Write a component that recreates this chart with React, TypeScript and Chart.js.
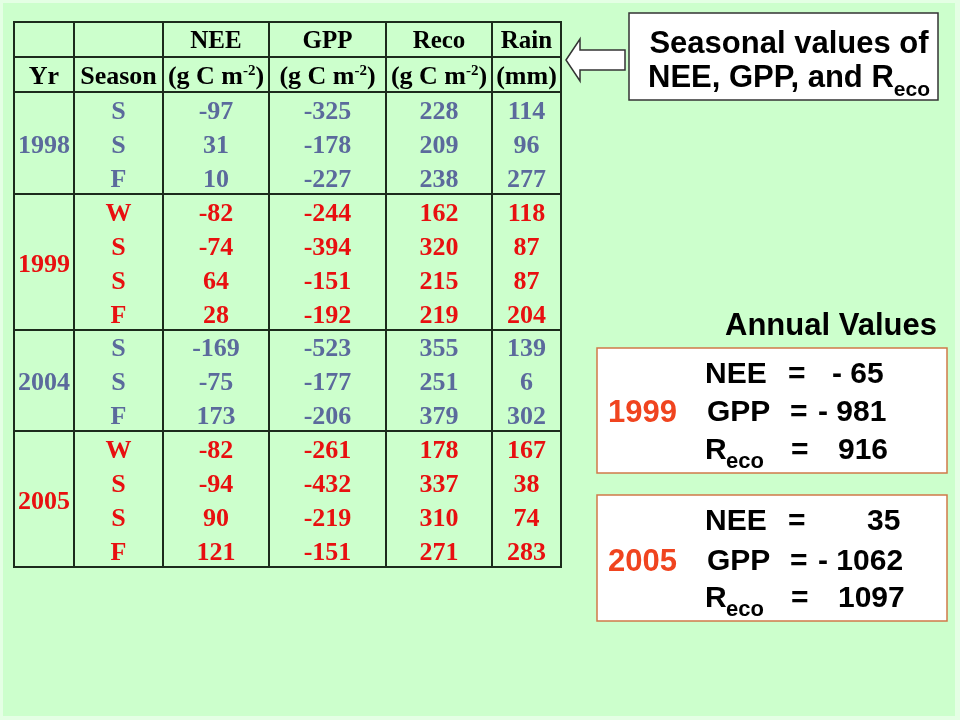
import React, { useEffect, useRef } from "react";
import { Chart, registerables } from "chart.js";

Chart.register(...registerables);

// ---------------- data ----------------
const YEARS = ["1998", "1999", "2004", "2005"];
const YEAR_ROWS = [3, 4, 3, 4];
const HIGHLIGHTED_YEARS = ["1999", "2005"];
const SEASONS = ["S", "S", "F", "W", "S", "S", "F", "S", "S", "F", "W", "S", "S", "F"];
const NEE = [-97, 31, 10, -82, -74, 64, 28, -169, -75, 173, -82, -94, 90, 121];
const GPP = [-325, -178, -227, -244, -394, -151, -192, -523, -177, -206, -261, -432, -219, -151];
const RECO = [228, 209, 238, 162, 320, 215, 219, 355, 251, 379, 178, 337, 310, 271];
const RAIN = [114, 96, 277, 118, 87, 87, 204, 139, 6, 302, 167, 38, 74, 283];

const COLUMN_NAMES = ["", "", "NEE", "GPP", "Reco", "Rain"];
const COLUMN_UNITS: string[][] = [
  ["Yr"],
  ["Season"],
  ["(g C m", "-2", ")"],
  ["(g C m", "-2", ")"],
  ["(g C m", "-2", ")"],
  ["(mm)"],
];

const TITLE_LINE_1 = "Seasonal values of";
const TITLE_LINE_2 = "NEE, GPP, and R";
const TITLE_SUB = "eco";
const ANNUAL_TITLE = "Annual Values";
const ANNUAL_YEARS = ["1999", "2005"];
const ANNUAL_NEE = [-65, 35];
const ANNUAL_GPP = [-981, -1062];
const ANNUAL_RECO = [916, 1097];

// ---------------- layout / style ----------------
const COL_WIDTHS = [60, 89, 106, 117, 106, 69];
const TABLE_W = COL_WIDTHS.reduce((a, b) => a + b, 0);
const HEADER_H = 35;
const BG = "#ccffcc";
const BG_EDGE = "#e4ffe4";
const GRID = "#1c2b1c";
const BLUE = "#5b6a9c";
const RED = "#e81010";
const ORANGE = "#f0441f";
const BOX_BORDER = "#cf7a48";
const SERIF = "'Liberation Serif', 'Times New Roman', serif";
const SANS = "'Liberation Sans', Arial, sans-serif";

function colCenter(c: number) {
  let s = 0;
  for (let i = 0; i < c; i++) s += COL_WIDTHS[i];
  return s + COL_WIDTHS[c] / 2;
}
function colEdge(c: number) {
  let s = 0;
  for (let i = 0; i < c; i++) s += COL_WIDTHS[i];
  return s;
}

const ROW_YEAR: number[] = [];
YEAR_ROWS.forEach((n, g) => {
  for (let k = 0; k < n; k++) ROW_YEAR.push(g);
});

function fmtSigned(v: number) {
  return v < 0 ? "- " + Math.abs(v) : String(v);
}

function txt(
  ctx: CanvasRenderingContext2D,
  s: string,
  x: number,
  y: number,
  font: string,
  color: string,
  align: CanvasTextAlign = "left"
) {
  ctx.font = font;
  ctx.fillStyle = color;
  ctx.textAlign = align;
  ctx.textBaseline = "alphabetic";
  ctx.fillText(s, x, y);
}

const COLUMN_SERIES: (string | number)[][] = [SEASONS, NEE, GPP, RECO, RAIN];

const slidePlugin = {
  id: "slide",
  beforeDraw(chart: any) {
    const ctx: CanvasRenderingContext2D = chart.ctx;
    ctx.save();
    ctx.fillStyle = BG_EDGE;
    ctx.fillRect(0, 0, chart.width, chart.height);
    ctx.fillStyle = BG;
    ctx.fillRect(3, 3, 952, 713);
    ctx.restore();
  },
  afterDatasetsDraw(chart: any) {
    const ctx: CanvasRenderingContext2D = chart.ctx;
    const xs = chart.scales.x;
    const ys = chart.scales.y;
    ctx.save();

    const top = ys.top - 2 * HEADER_H;
    const bottom = ys.bottom;
    const left = xs.getPixelForValue(0);
    const right = xs.getPixelForValue(TABLE_W);

    // grid lines
    ctx.strokeStyle = GRID;
    ctx.lineWidth = 2;
    ctx.beginPath();
    for (let c = 0; c <= COL_WIDTHS.length; c++) {
      const px = Math.round(xs.getPixelForValue(colEdge(c)));
      ctx.moveTo(px, top);
      ctx.lineTo(px, bottom);
    }
    const hLines = [top, top + HEADER_H, ys.top];
    let cum = 0;
    YEAR_ROWS.forEach((n) => {
      cum += n;
      hLines.push(ys.getPixelForValue(cum));
    });
    hLines.forEach((py) => {
      ctx.moveTo(left - 1, Math.round(py));
      ctx.lineTo(right + 1, Math.round(py));
    });
    ctx.stroke();

    // header row 1
    const h1 = top + HEADER_H / 2 + 8.5;
    COLUMN_NAMES.forEach((name, c) => {
      if (name) txt(ctx, name, xs.getPixelForValue(colCenter(c)), h1, `bold 25px ${SERIF}`, "#000", "center");
    });
    // header row 2
    const h2 = top + HEADER_H * 1.5 + 9.5;
    COLUMN_UNITS.forEach((parts, c) => {
      const cx = xs.getPixelForValue(colCenter(c));
      if (parts.length === 1) {
        txt(ctx, parts[0], cx, h2, `bold 26px ${SERIF}`, "#000", "center");
      } else {
        const mainF = `bold 26px ${SERIF}`;
        const supF = `bold 15px ${SERIF}`;
        ctx.font = mainF;
        const w0 = ctx.measureText(parts[0]).width;
        const w2 = ctx.measureText(parts[2]).width;
        ctx.font = supF;
        const w1 = ctx.measureText(parts[1]).width;
        let x0 = cx - (w0 + w1 + w2) / 2;
        txt(ctx, parts[0], x0, h2, mainF, "#000");
        txt(ctx, parts[1], x0 + w0, h2 - 9, supF, "#000");
        txt(ctx, parts[2], x0 + w0 + w1, h2, mainF, "#000");
      }
    });

    // year labels
    let start = 0;
    YEARS.forEach((yr, g) => {
      const n = YEAR_ROWS[g];
      const cy = ys.getPixelForValue(start + n / 2);
      const color = HIGHLIGHTED_YEARS.includes(yr) ? RED : BLUE;
      txt(ctx, yr, xs.getPixelForValue(colCenter(0)), cy + 10, `bold 26px ${SERIF}`, color, "center");
      start += n;
    });

    // data cells from dataset elements
    chart.data.datasets.forEach((ds: any, d: number) => {
      const meta = chart.getDatasetMeta(d);
      const values = COLUMN_SERIES[d];
      meta.data.forEach((el: any, i: number) => {
        const color = HIGHLIGHTED_YEARS.includes(YEARS[ROW_YEAR[i]]) ? RED : BLUE;
        txt(ctx, String(values[i]), el.x, el.y + 10, `bold 26px ${SERIF}`, color, "center");
      });
    });

    // arrow
    ctx.beginPath();
    ctx.moveTo(566, 60);
    ctx.lineTo(580, 39);
    ctx.lineTo(580, 50);
    ctx.lineTo(625, 50);
    ctx.lineTo(625, 70);
    ctx.lineTo(580, 70);
    ctx.lineTo(580, 81);
    ctx.closePath();
    ctx.fillStyle = "#fff";
    ctx.fill();
    ctx.strokeStyle = "#333";
    ctx.lineWidth = 1.5;
    ctx.stroke();

    // title box
    ctx.fillStyle = "#fff";
    ctx.fillRect(629, 13, 309, 87);
    ctx.strokeStyle = "#333";
    ctx.lineWidth = 1.5;
    ctx.strokeRect(629, 13, 309, 87);
    txt(ctx, TITLE_LINE_1, 789, 53, `bold 31px ${SANS}`, "#000", "center");
    {
      const mf = `bold 31px ${SANS}`;
      const sf = `bold 21px ${SANS}`;
      ctx.font = mf;
      const w0 = ctx.measureText(TITLE_LINE_2).width;
      ctx.font = sf;
      const w1 = ctx.measureText(TITLE_SUB).width;
      const x0 = 789 - (w0 + w1) / 2;
      txt(ctx, TITLE_LINE_2, x0, 87, mf, "#000");
      txt(ctx, TITLE_SUB, x0 + w0, 96, sf, "#000");
    }

    // annual values
    txt(ctx, ANNUAL_TITLE, 831, 335, `bold 31px ${SANS}`, "#000", "center");
    const boxes = [
      { top: 348, bottom: 473, lines: [383, 421, 459] },
      { top: 495, bottom: 621, lines: [530, 570, 607] },
    ];
    const bf = `bold 30px ${SANS}`;
    const sbf = `bold 22px ${SANS}`;
    boxes.forEach((b, k) => {
      ctx.fillStyle = "#fff";
      ctx.fillRect(597, b.top, 350, b.bottom - b.top);
      ctx.strokeStyle = BOX_BORDER;
      ctx.lineWidth = 1.5;
      ctx.strokeRect(597, b.top, 350, b.bottom - b.top);
      txt(ctx, ANNUAL_YEARS[k], 608, b.lines[1] + 1, `bold 31px ${SANS}`, ORANGE);
      // NEE
      txt(ctx, "NEE", 705, b.lines[0], bf, "#000");
      txt(ctx, "=", 788, b.lines[0], bf, "#000");
      const nee = ANNUAL_NEE[k];
      txt(ctx, fmtSigned(nee), nee < 0 ? 832 : 867, b.lines[0], bf, "#000");
      // GPP
      txt(ctx, "GPP", 707, b.lines[1], bf, "#000");
      txt(ctx, "=", 790, b.lines[1], bf, "#000");
      const gpp = ANNUAL_GPP[k];
      txt(ctx, fmtSigned(gpp), gpp < 0 ? 818 : 838, b.lines[1], bf, "#000");
      // Reco
      txt(ctx, "R", 705, b.lines[2], bf, "#000");
      txt(ctx, "eco", 726, b.lines[2] + 9, sbf, "#000");
      txt(ctx, "=", 791, b.lines[2], bf, "#000");
      txt(ctx, fmtSigned(ANNUAL_RECO[k]), 838, b.lines[2], bf, "#000");
    });

    ctx.restore();
  },
};

export default function App() {
  const ref = useRef<HTMLCanvasElement | null>(null);
  useEffect(() => {
    const canvas = ref.current;
    if (!canvas) return;
    const colIdx = [1, 2, 3, 4, 5];
    const chart = new Chart(canvas, {
      type: "scatter",
      data: {
        datasets: COLUMN_SERIES.map((vals, d) => ({
          label: COLUMN_NAMES[colIdx[d]] || "Season",
          data: vals.map((_, i) => ({ x: colCenter(colIdx[d]), y: i + 0.5 })),
          pointRadius: 0,
          pointHoverRadius: 0,
        })),
      },
      options: {
        animation: false,
        responsive: false,
        events: [],
        layout: { padding: { left: 14, top: 92, right: 960 - 14 - TABLE_W, bottom: 153 } },
        scales: {
          x: { type: "linear", min: 0, max: TABLE_W, display: false },
          y: { type: "linear", min: 0, max: SEASONS.length, reverse: true, display: false },
        },
        plugins: { legend: { display: false }, tooltip: { enabled: false }, title: { display: false } },
      },
      plugins: [slidePlugin as any],
    });
    return () => chart.destroy();
  }, []);
  return (
    <div style={{ position: "absolute", left: 0, top: 0, width: 960, height: 720 }}>
      <canvas ref={ref} width={960} height={720} style={{ display: "block" }} />
    </div>
  );
}
